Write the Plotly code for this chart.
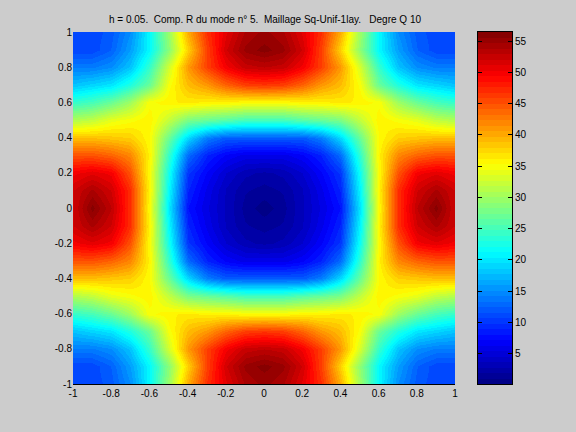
import plotly.graph_objects as go

# Sample positions of the field
x_values = [-1.0, -0.9, -0.8, -0.7, -0.6, -0.5, -0.4, -0.3, -0.2, -0.1, 0.0,
            0.1, 0.2, 0.3, 0.4, 0.5, 0.6, 0.7, 0.8, 0.9, 1.0]
y_values = [1.0, 0.9, 0.8, 0.7, 0.6, 0.5, 0.4, 0.3, 0.2, 0.1, 0.0,
            -0.1, -0.2, -0.3, -0.4, -0.5, -0.6, -0.7, -0.8, -0.9, -1.0]

# Field magnitude, one row per y value (top to bottom)
field_rows = [
    [11, 11, 12, 15, 21, 30, 40, 47, 51, 54, 55, 54, 51, 47, 40, 30, 21, 15, 12, 11, 11],
    [11, 11, 12.5, 16, 21, 29, 38, 46, 52, 55, 56, 55, 52, 46, 38, 29, 21, 16, 12.5, 11, 11],
    [14, 14, 15, 18, 24, 33, 41, 46, 50, 52.5, 53, 52.5, 50, 46, 41, 33, 24, 18, 15, 14, 14],
    [18, 19, 20, 23, 27, 35, 39, 41, 44, 46, 46.5, 46, 44, 41, 39, 35, 27, 23, 20, 19, 18],
    [24, 25, 27, 30, 35, 36, 36.5, 36, 36, 35.5, 35.5, 35.5, 36, 36, 36.5, 36, 35, 30, 27, 25, 24],
    [31, 32, 34, 35, 36, 32, 28, 27, 26, 25, 25, 25, 26, 27, 28, 32, 36, 35, 34, 32, 31],
    [39, 39, 38.5, 38, 35.5, 27, 19, 14, 12, 12, 12, 12, 12, 14, 19, 27, 35.5, 38, 38.5, 39, 39],
    [45, 45, 44, 42, 36, 24, 13, 9, 7, 6, 6, 6, 7, 9, 13, 24, 36, 42, 44, 45, 45],
    [50, 51, 50, 45, 35.5, 22, 10, 7, 4.5, 3, 2.5, 3, 4.5, 7, 10, 22, 35.5, 45, 50, 51, 50],
    [52, 54, 52, 47, 36, 21, 9, 6, 3.5, 2, 1.5, 2, 3.5, 6, 9, 21, 36, 47, 52, 54, 52],
    [52, 56, 53, 47, 35.5, 20, 8, 5.5, 3.5, 1.5, 0.5, 1.5, 3.5, 5.5, 8, 20, 35.5, 47, 53, 56, 52],
    [52, 54, 52, 47, 36, 21, 9, 6, 3.5, 2, 1.5, 2, 3.5, 6, 9, 21, 36, 47, 52, 54, 52],
    [50, 51, 50, 45, 35.5, 22, 10, 7, 4.5, 3, 2.5, 3, 4.5, 7, 10, 22, 35.5, 45, 50, 51, 50],
    [45, 45, 44, 42, 36, 24, 13, 9, 7, 6, 6, 6, 7, 9, 13, 24, 36, 42, 44, 45, 45],
    [39, 39, 38.5, 38, 35.5, 27, 19, 14, 12, 12, 12, 12, 12, 14, 19, 27, 35.5, 38, 38.5, 39, 39],
    [31, 32, 34, 35, 36, 32, 28, 27, 26, 25, 25, 25, 26, 27, 28, 32, 36, 35, 34, 32, 31],
    [24, 25, 27, 30, 35, 36, 36.5, 36, 36, 35.5, 35.5, 35.5, 36, 36, 36.5, 36, 35, 30, 27, 25, 24],
    [18, 19, 20, 23, 27, 35, 39, 41, 44, 46, 46.5, 46, 44, 41, 39, 35, 27, 23, 20, 19, 18],
    [14, 14, 15, 18, 24, 33, 41, 46, 50, 52.5, 53, 52.5, 50, 46, 41, 33, 24, 18, 15, 14, 14],
    [11, 11, 12.5, 16, 21, 29, 38, 46, 52, 55, 56, 55, 52, 46, 38, 29, 21, 16, 12.5, 11, 11],
    [11, 11, 12, 15, 21, 30, 40, 47, 51, 54, 55, 54, 51, 47, 40, 30, 21, 15, 12, 11, 11],
]

title_text = "h = 0.05.  Comp. R du mode n° 5.  Maillage Sq-Unif-1lay.   Degre Q 10"
axis_ticks = [-1, -0.8, -0.6, -0.4, -0.2, 0, 0.2, 0.4, 0.6, 0.8, 1]
axis_tick_labels = ["-1", "-0.8", "-0.6", "-0.4", "-0.2", "0", "0.2", "0.4", "0.6", "0.8", "1"]
bar_ticks = [5, 10, 15, 20, 25, 30, 35, 40, 45, 50, 55]
value_min = 0.1
value_max = 56.5
level_count = 64


def channel(t, centre):
    # Trapezoid shape of one channel of the jet palette
    return max(0.0, min(1.0, 1.5 - abs(4 * t - centre)))


# Stepped jet palette with one flat band per level
jet_steps = []
for i in range(level_count):
    t = (i + 1) / level_count - 0.5 / level_count
    r, g, b = (round(255 * channel(t, c)) for c in (3, 2, 1))
    colour = f"rgb({r},{g},{b})"
    jet_steps.append([i / level_count, colour])
    jet_steps.append([(i + 1) / level_count, colour])

# Centre value of each palette band, used by the colour scale strip
level_width = (value_max - value_min) / level_count
bar_levels = [value_min + (i + 0.5) * level_width for i in range(level_count)]

fig = go.Figure()
fig.add_trace(go.Heatmap(
    x=x_values, y=y_values, z=field_rows,
    zmin=value_min, zmax=value_max, zsmooth="best",
    colorscale=jet_steps, showscale=False,
    xaxis="x", yaxis="y", hoverinfo="skip",
))
fig.add_trace(go.Heatmap(
    x=[0, 1], y=bar_levels, z=[[v, v] for v in bar_levels],
    zmin=value_min, zmax=value_max, zsmooth=False,
    colorscale=jet_steps, showscale=False,
    xaxis="x2", yaxis="y2", hoverinfo="skip",
))

tick_font = dict(family="Liberation Sans, Arial, sans-serif", size=10, color="black")
W, H = 576, 432

fig.update_layout(
    width=W, height=H,
    margin=dict(l=0, r=0, t=0, b=0, pad=0, autoexpand=False),
    paper_bgcolor="#cccccc", plot_bgcolor="#cccccc",
    showlegend=False,
    xaxis=dict(
        domain=[73 / W, 455 / W], range=[-1, 1], tickvals=axis_ticks, ticktext=axis_tick_labels,
        ticks="", showgrid=False, zeroline=False, showline=True, linecolor="black", linewidth=1,
        tickfont=tick_font, anchor="y",
    ),
    yaxis=dict(
        domain=[1 - 384 / H, 1 - 32 / H], range=[-1, 1], tickvals=axis_ticks, ticktext=axis_tick_labels,
        ticks="", showgrid=False, zeroline=False, showline=False,
        tickfont=tick_font, anchor="x",
    ),
    xaxis2=dict(
        domain=[478 / W, 512 / W], range=[0, 1], showticklabels=False, ticks="",
        showgrid=False, zeroline=False, showline=True, linecolor="black", linewidth=1,
        mirror=True, anchor="y2",
    ),
    yaxis2=dict(
        domain=[1 - 384 / H, 1 - 32 / H], range=[value_min, value_max], side="right",
        tickvals=bar_ticks, ticks="inside", ticklen=4, tickcolor="black", tickwidth=1,
        showgrid=False, zeroline=False, showline=True, linecolor="black", linewidth=1,
        mirror="ticks", tickfont=tick_font, anchor="x2",
    ),
    annotations=[dict(
        text=title_text.replace("  ", "&nbsp;&nbsp;"), xref="paper", yref="paper",
        x=264.5 / W, xanchor="center",
        y=1 - 20 / H, yanchor="middle", showarrow=False,
        font=dict(family="Liberation Sans, Arial, sans-serif", size=10, color="black"),
    )],
)

fig.write_html("out.html", config=dict(displayModeBar=False))
